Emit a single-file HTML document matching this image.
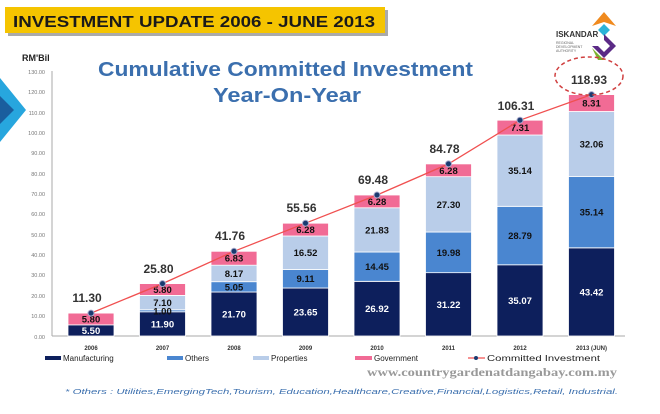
<!DOCTYPE html>
<html><head><meta charset="utf-8"><style>
body{margin:0;background:#fff;}
svg{display:block;font-family:"Liberation Sans",sans-serif;}
</style></head><body>
<svg width="660" height="414" viewBox="0 0 660 414">
<rect width="660" height="414" fill="#fff"/>
<rect x="8" y="10" width="380" height="26" fill="#aaa"/>
<rect x="5" y="7" width="380" height="26" fill="#f5c400"/>
<text x="13" y="27" font-size="16" font-weight="bold" fill="#1a1a1a" textLength="362" lengthAdjust="spacingAndGlyphs">INVESTMENT UPDATE 2006 - JUNE 2013</text>
<g transform="translate(564,12)">
<polygon points="40,0 52,14 40,10 28,14" fill="#f08a1e"/>
<polygon points="40,12 46,18 40,24 34,18" fill="#2bb3d8"/>
<polygon points="40,22 52,34 40,46 28,34 34,34 40,40 46,34 40,28" fill="#5b2a86"/>
<polygon points="28,36 40,48 34,48" fill="#7ab32e"/>
</g>
<text x="556" y="37" font-size="8" font-weight="bold" fill="#333">ISKANDAR</text>
<text x="556" y="44" font-size="3.5" fill="#666">REGIONAL</text>
<text x="556" y="48" font-size="3.5" fill="#666">DEVELOPMENT</text>
<text x="556" y="52" font-size="3.5" fill="#666">AUTHORITY</text>
<text x="22" y="61" font-size="9" font-weight="bold" fill="#222">RM'Bil</text>
<polygon points="0,78 26,110 0,142" fill="#27a6de"/>
<polygon points="0,96 14,110 0,124" fill="#1a5e9e"/>
<text x="98" y="76" font-size="20" font-weight="bold" fill="#3b6fae" textLength="375" lengthAdjust="spacingAndGlyphs">Cumulative Committed Investment</text>
<text x="213" y="102" font-size="20" font-weight="bold" fill="#3b6fae" textLength="148" lengthAdjust="spacingAndGlyphs">Year-On-Year</text>
<g font-size="5.5" fill="#777" text-anchor="end">
<text x="45" y="339">0.00</text><text x="45" y="318">10.00</text><text x="45" y="298">20.00</text><text x="45" y="277">30.00</text><text x="45" y="257">40.00</text><text x="45" y="237">50.00</text><text x="45" y="216">60.00</text><text x="45" y="196">70.00</text><text x="45" y="176">80.00</text><text x="45" y="155">90.00</text><text x="45" y="135">100.00</text><text x="45" y="115">110.00</text><text x="45" y="94">120.00</text><text x="45" y="74">130.00</text>
</g>
<line x1="52" y1="71" x2="52" y2="336" stroke="#aaa"/>
<line x1="52" y1="336" x2="625" y2="336" stroke="#aaa"/>
<g stroke="#fff" stroke-width="0.8">
<rect x="68" y="324.8" width="46" height="11.2" fill="#0d1f5c"/>
<rect x="68" y="313.1" width="46" height="11.8" fill="#f16b95"/>
<rect x="139.5" y="311.8" width="46" height="24.2" fill="#0d1f5c"/>
<rect x="139.5" y="309.8" width="46" height="2" fill="#4a86d0"/>
<rect x="139.5" y="295.4" width="46" height="14.4" fill="#b9cde9"/>
<rect x="139.5" y="283.6" width="46" height="11.8" fill="#f16b95"/>
<rect x="211" y="292" width="46" height="44" fill="#0d1f5c"/>
<rect x="211" y="281.7" width="46" height="10.3" fill="#4a86d0"/>
<rect x="211" y="265.1" width="46" height="16.6" fill="#b9cde9"/>
<rect x="211" y="251.3" width="46" height="13.9" fill="#f16b95"/>
<rect x="282.5" y="288" width="46" height="48" fill="#0d1f5c"/>
<rect x="282.5" y="269.5" width="46" height="18.5" fill="#4a86d0"/>
<rect x="282.5" y="236" width="46" height="33.5" fill="#b9cde9"/>
<rect x="282.5" y="223.2" width="46" height="12.8" fill="#f16b95"/>
<rect x="354" y="281.4" width="46" height="54.6" fill="#0d1f5c"/>
<rect x="354" y="252" width="46" height="29.3" fill="#4a86d0"/>
<rect x="354" y="207.7" width="46" height="44.3" fill="#b9cde9"/>
<rect x="354" y="195" width="46" height="12.8" fill="#f16b95"/>
<rect x="425.5" y="272.6" width="46" height="63.4" fill="#0d1f5c"/>
<rect x="425.5" y="232.1" width="46" height="40.6" fill="#4a86d0"/>
<rect x="425.5" y="176.6" width="46" height="55.4" fill="#b9cde9"/>
<rect x="425.5" y="163.9" width="46" height="12.8" fill="#f16b95"/>
<rect x="497" y="264.8" width="46" height="71.2" fill="#0d1f5c"/>
<rect x="497" y="206.4" width="46" height="58.4" fill="#4a86d0"/>
<rect x="497" y="135" width="46" height="71.3" fill="#b9cde9"/>
<rect x="497" y="120.2" width="46" height="14.8" fill="#f16b95"/>
<rect x="568.5" y="247.9" width="46" height="88.1" fill="#0d1f5c"/>
<rect x="568.5" y="176.5" width="46" height="71.3" fill="#4a86d0"/>
<rect x="568.5" y="111.5" width="46" height="65.1" fill="#b9cde9"/>
<rect x="568.5" y="94.6" width="46" height="16.9" fill="#f16b95"/>
</g>
<g font-size="9.5" font-weight="bold" text-anchor="middle" fill="#111">
<text x="91" y="333.9" fill="#fff">5.50</text><text x="91" y="322.4">5.80</text>
<text x="162.5" y="327.4" fill="#fff">11.90</text><text x="162.5" y="314.3">1.00</text><text x="162.5" y="306.1">7.10</text><text x="162.5" y="293">5.80</text>
<text x="234" y="317.5" fill="#fff">21.70</text><text x="234" y="290.3">5.05</text><text x="234" y="276.9">8.17</text><text x="234" y="261.7">6.83</text>
<text x="305.5" y="315.5" fill="#fff">23.65</text><text x="305.5" y="282.2">9.11</text><text x="305.5" y="256.2">16.52</text><text x="305.5" y="233.1">6.28</text>
<text x="377" y="312.2" fill="#fff">26.92</text><text x="377" y="270.2">14.45</text><text x="377" y="233.4">21.83</text><text x="377" y="204.8">6.28</text>
<text x="448.5" y="307.8" fill="#fff">31.22</text><text x="448.5" y="255.8">19.98</text><text x="448.5" y="207.9">27.30</text><text x="448.5" y="173.8">6.28</text>
<text x="520" y="303.9" fill="#fff">35.07</text><text x="520" y="239.1">28.79</text><text x="520" y="174.2">35.14</text><text x="520" y="131.1">7.31</text>
<text x="591.5" y="295.4" fill="#fff">43.42</text><text x="591.5" y="215.7">35.14</text><text x="591.5" y="147.5">32.06</text><text x="591.5" y="106.5">8.31</text>
</g>
<polyline points="91,313.1 162.5,283.6 234,251.3 305.5,223.2 377,195 448.5,163.9 520,120.2 591.5,94.6" fill="none" stroke="#f05050" stroke-width="1.3"/>
<g fill="#1a3a70" stroke="#aac" stroke-width="1">
<circle cx="91" cy="313.1" r="3"/><circle cx="162.5" cy="283.6" r="3"/><circle cx="234" cy="251.3" r="3"/><circle cx="305.5" cy="223.2" r="3"/><circle cx="377" cy="195" r="3"/><circle cx="448.5" cy="163.9" r="3"/><circle cx="520" cy="120.2" r="3"/><circle cx="591.5" cy="94.6" r="3"/>
</g>
<g font-size="12" font-weight="bold" text-anchor="middle" fill="#333">
<text x="87" y="302">11.30</text><text x="158.5" y="273">25.80</text><text x="230" y="240">41.76</text><text x="301.5" y="212">55.56</text><text x="373" y="184">69.48</text><text x="444.5" y="153">84.78</text><text x="516" y="110">106.31</text><text x="589" y="84">118.93</text>
</g>
<g font-size="6" font-weight="bold" text-anchor="middle" fill="#333">
<text x="91" y="350">2006</text><text x="162.5" y="350">2007</text><text x="234" y="350">2008</text><text x="305.5" y="350">2009</text><text x="377" y="350">2010</text><text x="448.5" y="350">2011</text><text x="520" y="350">2012</text><text x="591.5" y="350">2013 (JUN)</text>
</g>
<ellipse cx="589" cy="76" rx="34" ry="19" fill="none" stroke="#d04040" stroke-width="1.5" stroke-dasharray="4,3"/>
<g font-size="8" fill="#222">
<rect x="45" y="356" width="16" height="4" fill="#0d1f5c"/><text x="63" y="361">Manufacturing</text>
<rect x="167" y="356" width="16" height="4" fill="#4a86d0"/><text x="185" y="361">Others</text>
<rect x="253" y="356" width="16" height="4" fill="#b9cde9"/><text x="271" y="361">Properties</text>
<rect x="355" y="356" width="17" height="4" fill="#f16b95"/><text x="374" y="361">Government</text>
<line x1="468" y1="358" x2="485" y2="358" stroke="#f05050" stroke-width="1.3"/><circle cx="476" cy="358" r="2" fill="#1a3a70"/><text x="487" y="361" textLength="113" lengthAdjust="spacingAndGlyphs">Committed Investment</text>
</g>
<text x="367" y="376" font-family="Liberation Serif,serif" font-size="12" font-weight="bold" fill="#999" textLength="250" lengthAdjust="spacingAndGlyphs">www.countrygardenatdangabay.com.my</text>
<text x="65" y="394" font-size="7.5" font-style="italic" fill="#3b6fae" textLength="553" lengthAdjust="spacingAndGlyphs">* Others :   Utilities,EmergingTech,Tourism, Education,Healthcare,Creative,Financial,Logistics,Retail, Industrial.</text>
</svg>
</body></html>
